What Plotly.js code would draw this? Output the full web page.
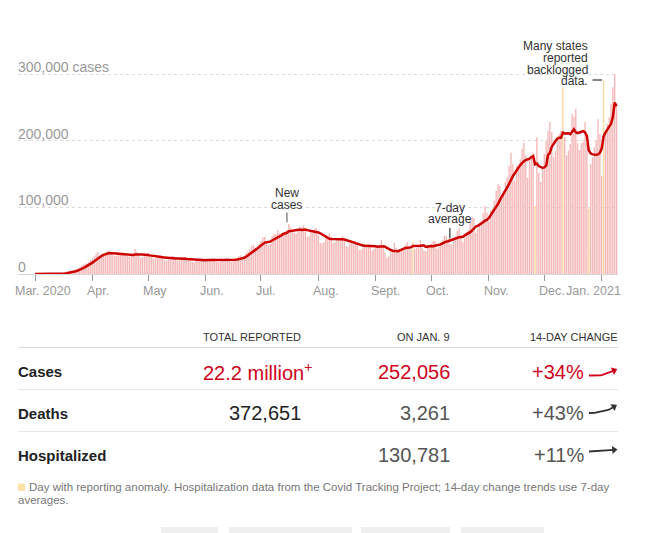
<!DOCTYPE html>
<html><head><meta charset="utf-8">
<script src="https://cdn.plot.ly/plotly-3.0.1.min.js"></script>
<style>html,body{margin:0;padding:0;background:#fff;}#chart{width:645px;height:533px;}</style>
</head><body><div id="chart"></div>
<script>
// ---- Daily new cases, Mar 1 2020 – Jan 9 2021 ----
const mar20 = [15,20,25,30,70,90,110,120,180,270,390,480,640,720,900,1200,1700,2600,3300,4000,4800,5800,7000,8200,9500,12000,14000,15500,16000,17500,21000];
const apr20 = [23500,26500,30500,33000,27500,29000,30500,32000,33500,34500,32000,28000,27000,27500,30000,31500,32500,30500,26500,27000,26000,27500,29500,37500,33000,27000,24000,25500,28500,30000];
const may20 = [32000,28500,25000,22500,23500,24500,28000,27500,25500,20500,19500,22000,21500,27000,26500,25000,20000,21000,21000,21500,25500,24500,23000,19500,18500,17500,19500,22000,23500,24000,19500];
const jun20 = [18000,20500,19500,21500,24000,23000,18500,17500,18500,20500,21500,23500,24500,19500,18000,20000,21500,24000,26500,28000,24000,27000,31000,34500,37500,42000,43000,39500,41000,45500];
const jul20 = [50000,55000,55500,46000,43000,45000,57000,60500,59500,66000,61000,57000,59000,63500,66500,75000,70000,64000,62000,60500,65500,70000,70500,73000,65000,56000,56500,63500,66000,68000,68500];
const aug20 = [58000,47000,46000,48000,54000,55000,61000,55500,47000,47500,52000,54000,52500,57000,52000,42500,41000,46500,46500,46000,49500,45000,36000,36500,39500,45000,45500,44500,42000,35000,37500];
const sep20 = [41500,39500,44000,50500,42500,32000,24500,26500,33500,35000,46500,39500,34000,33000,38000,38500,44000,47500,42000,36500,48000,37000,39000,43500,51000,45000,35500,34000,41500,40500];
const oct20 = [45500,49500,49000,38000,41000,47000,50500,57000,57500,53000,45500,44500,52500,56500,64500,68500,56000,47500,60000,63000,66000,78000,86000,84000,62000,67000,74000,80000,91000,102000,92000];
const nov20 = [80000,95000,98000,110000,125000,135000,132000,112000,124000,138000,145000,162000,182000,165000,140000,162000,160000,172000,188000,197000,178000,144000,172000,176000,182000,102000,205000,152000,138000,160000];
const dec20 = [180000,200000,215000,228000,213000,175000,185000,205000,210000,215000,280000,205000,178000,185000,195000,240000,236000,248000,196000,186000,196000,198000,228000,196000,98000,165000,175000,190000,200000,232000,210000];
const jan21 = [147000,290000,215000,225000,235000,255000,280000,300000,252000];

// Days with reporting anomaly
const anomalyDates = ['2020-09-21','2020-11-26','2020-12-11','2020-12-25','2021-01-02'];

// Axis ticks
const monthTicks = ['2020-03-01','2020-04-01','2020-05-01','2020-06-01','2020-07-01','2020-08-01','2020-09-01','2020-10-01','2020-11-01','2020-12-01','2021-01-01'];
const monthLabels = ['Mar. 2020','Apr.','May','Jun.','Jul.','Aug.','Sept.','Oct.','Nov.','Dec.','Jan. 2021'];
const yTickVals = [0,100000,200000,300000];
const yTickText = ['0','100,000','200,000','300,000 cases'];

// Table
const headers = ['TOTAL REPORTED','ON JAN. 9','14-DAY CHANGE'];
const rowLabels = ['Cases','Deaths','Hospitalized'];
const totals = ['22.2 million<sup>+</sup>','372,651',''];
const onJan9 = ['252,056','3,261','130,781'];
const change14 = ['+34%','+43%','+11%'];
// 14-day trend of 7-day averages (sparklines)
const casesTrend = [188000,187000,186000,185000,185000,186000,189000,195000,203000,211000,220000,230000,241000,252000];
const deathsTrend = [2300,2290,2280,2320,2390,2450,2500,2540,2600,2680,2780,2920,3100,3290];
const hospTrend = [117800,118500,119300,120000,121000,121900,122800,123900,124900,125900,127000,128300,129500,130781];

const footnote1 = 'Day with reporting anomaly. Hospitalization data from the Covid Tracking Project; 14-day change trends use 7-day';
const footnote2 = 'averages.';

// ---- build ----
const cases = [].concat(mar20,apr20,may20,jun20,jul20,aug20,sep20,oct20,nov20,dec20,jan21);
const dates = [];
const start = Date.UTC(2020,2,1);
for (let i=0;i<cases.length;i++){
  dates.push(new Date(start + i*86400000).toISOString().slice(0,10));
}
const avg = cases.map((v,i)=>{
  const s = cases.slice(Math.max(0,i-6), i+1);
  return s.reduce((a,b)=>a+b,0)/s.length;
});
const barColors = dates.map(d => anomalyDates.includes(d) ? '#fcd9a2' : '#f5b9b9');

const W=645, H=533;
const px = v => v/W;
const py = v => 1 - v/H;
const FONT = 'Liberation Sans, Arial, Helvetica, sans-serif';
const RED = '#d0021b';

const traces = [
  {type:'bar', x:dates, y:cases, marker:{color:barColors, line:{width:0}}, hoverinfo:'skip'},
  {type:'scatter', mode:'lines', x:dates, y:avg, line:{color:'#cc0000', width:2.5}, hoverinfo:'skip'}
];

const annotations = [];
const sparkData = [casesTrend, deathsTrend, hospTrend];
const sparkColors = [RED, '#333', '#333'];
const sparkStartY = [375.5, 413, 451.5];
const SPARK_X0 = 589, SPARK_X1 = 614, SPARK_H = 20;
const layoutExtra = {};
sparkData.forEach((arr,k)=>{
  const n = k+2;
  const last = arr.length-1;
  const lo = arr[0]*0.7, hi = arr[0]*2.06;
  traces.push({
    type:'scatter', mode:'lines', xaxis:'x'+n, yaxis:'y'+n,
    x: arr.map((_,i)=>i), y: arr,
    line:{color:sparkColors[k], width:1.8},
    cliponaxis:false, hoverinfo:'skip'
  });
  // arrow head oriented along the last segment (in pixels)
  const dxp = (SPARK_X1-SPARK_X0)/last;
  const dyp = (arr[last]-arr[last-1])/(hi-lo)*SPARK_H;
  const ang = -Math.atan2(dyp, dxp)*180/Math.PI;
  traces.push({
    type:'scatter', mode:'markers', xaxis:'x'+n, yaxis:'y'+n,
    x:[last], y:[arr[last]],
    marker:{symbol:'triangle-right', size:7, angle:ang, color:sparkColors[k], line:{width:0}},
    cliponaxis:false, hoverinfo:'skip'
  });
  const b = sparkStartY[k] + 4.4;
  layoutExtra['xaxis'+n] = {domain:[px(SPARK_X0), px(SPARK_X1)], range:[0, last], visible:false, fixedrange:true};
  layoutExtra['yaxis'+n] = {domain:[py(b), py(b-SPARK_H)], range:[lo, hi], visible:false, fixedrange:true};
});

// y labels
yTickVals.forEach((v,i)=>{
  annotations.push({xref:'paper', yref:'y', x:px(16), y:v, xanchor:'left', yanchor:'bottom', yshift:-3,
    text:yTickText[i], showarrow:false, font:{family:FONT, size:14, color:'#999'}});
});
// x labels
monthTicks.forEach((d,i)=>{
  const a = {xref:'x', yref:'paper', x:d, y:py(291), yanchor:'middle', text:monthLabels[i], showarrow:false,
    font:{family:FONT, size:12.5, color:'#999'}};
  if (i===0){ a.xanchor='left'; a.xshift=-22; }
  else if (i===monthTicks.length-1){ a.xanchor='right'; a.xshift=21; }
  else { a.xanchor='left'; a.xshift=-7; }
  annotations.push(a);
});
// chart notes
const note = (x,y,t,anchor,xref) => ({xref:xref||'x', yref:'paper', x:x, y:py(y), xanchor:anchor||'center', yanchor:'middle',
  text:t, showarrow:false, borderpad:0, font:{family:FONT, size:12, color:'#333'}});
annotations.push(note('2020-07-15',193,'New'));
annotations.push(note('2020-07-15',205,'cases'));
annotations.push(note('2020-10-11',207.5,'7-day'));
annotations.push(note('2020-10-11',219.5,'average'));
[['Many states',46],['reported',58],['backlogged',70],['data.',81.5]].forEach(([t,y])=>{
  annotations.push(note(px(589),y,t,'right','paper'));
});
// table
const colRight = [px(303), px(452), px(586)];
headers.forEach((h,i)=>{
  annotations.push({xref:'paper', yref:'paper', x:(i===2? px(620):colRight[i]), y:py(336.5), xanchor:'right', yanchor:'middle',
    text:h, showarrow:false, font:{family:FONT, size:11, color:'#333'}});
});
const rowY = [371.5, 413, 455];
rowLabels.forEach((r,i)=>{
  const c = i===0 ? RED : '#555';
  annotations.push({xref:'paper', yref:'paper', x:px(16), y:py(rowY[i]), xanchor:'left', yanchor:'middle',
    text:'<b>'+r+'</b>', showarrow:false, font:{family:FONT, size:15, color:'#222'}});
  if (totals[i]) annotations.push({xref:'paper', yref:'paper', x:(i===0?px(314):colRight[0]), y:py(rowY[i]), xanchor:'right', yanchor:'middle',
    text:totals[i], showarrow:false, font:{family:FONT, size:20, color: i===0?RED:'#222'}});
  annotations.push({xref:'paper', yref:'paper', x:colRight[1], y:py(rowY[i]), xanchor:'right', yanchor:'middle',
    text:onJan9[i], showarrow:false, font:{family:FONT, size:20, color:c}});
  annotations.push({xref:'paper', yref:'paper', x:colRight[2], y:py(rowY[i]), xanchor:'right', yanchor:'middle',
    text:change14[i], showarrow:false, font:{family:FONT, size:20, color:c}});
});
// footnote
annotations.push({xref:'paper', yref:'paper', x:px(27), y:py(487), xanchor:'left', yanchor:'middle', text:footnote1, showarrow:false,
  font:{family:FONT, size:11.5, color:'#777'}});
annotations.push({xref:'paper', yref:'paper', x:px(16), y:py(500), xanchor:'left', yanchor:'middle', text:footnote2, showarrow:false,
  font:{family:FONT, size:11.5, color:'#777'}});

const shapes = [
  {type:'line', xref:'x', yref:'paper', x0:'2020-07-15', x1:'2020-07-15', y0:py(212.5), y1:py(222.5), line:{color:'#888', width:1.5}},
  {type:'line', xref:'x', yref:'paper', x0:'2020-10-11', x1:'2020-10-11', y0:py(228), y1:py(238.5), line:{color:'#333', width:1.2}},
  {type:'line', xref:'paper', yref:'paper', x0:px(592.5), x1:px(602), y0:py(80), y1:py(80), line:{color:'#333', width:1.2}},
  {type:'line', xref:'paper', yref:'paper', x0:px(18), x1:px(618), y0:py(347.5), y1:py(347.5), line:{color:'#ddd', width:1}},
  {type:'line', xref:'paper', yref:'paper', x0:px(18), x1:px(618), y0:py(389.5), y1:py(389.5), line:{color:'#e6e6e6', width:1}},
  {type:'line', xref:'paper', yref:'paper', x0:px(18), x1:px(618), y0:py(431.5), y1:py(431.5), line:{color:'#e6e6e6', width:1}},
  {type:'rect', xref:'paper', yref:'paper', x0:px(18), x1:px(25), y0:py(491), y1:py(483.5), line:{width:0}, fillcolor:'#fde2a8'},
];
[[161,218],[229,352],[361,450],[461,544]].forEach(([a,b])=>{
  shapes.push({type:'rect', xref:'paper', yref:'paper', x0:px(a), x1:px(b), y0:py(533), y1:py(527), line:{width:0}, fillcolor:'#efefef'});
});

const layout = Object.assign({
  width:W, height:H, margin:{l:0,r:0,t:0,b:0,pad:0},
  paper_bgcolor:'#fff', plot_bgcolor:'#fff', showlegend:false, bargap:0.25,
  font:{family:FONT, color:'#333'},
  xaxis:{type:'date', domain:[px(18), px(618)], range:['2020-02-20 19:00','2021-01-09 19:00'],
    tickvals:monthTicks, showticklabels:false, ticks:'outside', ticklen:6, tickcolor:'#999', tickwidth:1,
    showgrid:false, showline:true, linecolor:'#d6d6d6', linewidth:1, zeroline:false, fixedrange:true},
  yaxis:{domain:[py(274), py(67.33)], range:[0,310000], tickvals:yTickVals, showticklabels:false,
    showgrid:true, gridcolor:'#dcdcdc', griddash:'3px,3px', gridwidth:1, zeroline:false, ticks:'', fixedrange:true},
  annotations:annotations, shapes:shapes
}, layoutExtra);

Plotly.newPlot('chart', traces, layout, {staticPlot:true, displayModeBar:false});
</script></body></html>
